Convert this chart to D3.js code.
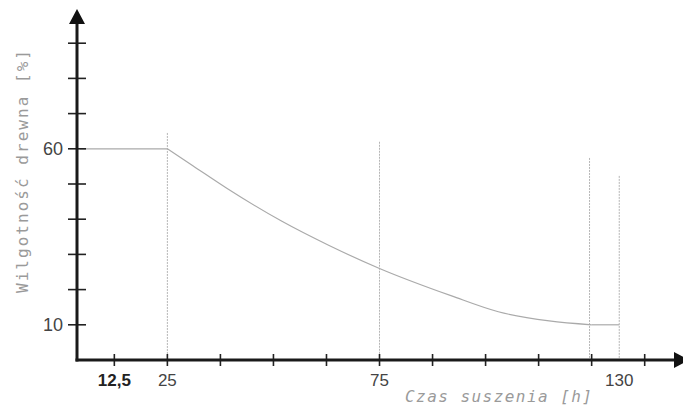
<!DOCTYPE html>
<html>
<head>
<meta charset="utf-8">
<script src="https://cdn.jsdelivr.net/npm/d3@7"></script>
<style>
  body { margin: 0; background: #fff; }
  svg { display: block; }
</style>
</head>
<body>
<svg id="chart" width="683" height="405"></svg>
<script>
// data
var timeH = [25, 31, 39, 52, 63, 75, 92, 103, 115, 125];
var moisture = [60, 55.2, 48.8, 39.4, 32.6, 26, 18.2, 13.7, 11.1, 10];
var plateauLevel = 60;
var endTime = 131.5; // drawn end of drying, labelled 130
var xTicks = [12.5, 25, 37.5, 50, 62.5, 75, 87.5, 100, 112.5, 125, 137.5];
var xTickLabels = [{v: 12.5, t: '12,5', bold: true}, {v: 25, t: '25'}, {v: 75, t: '75'}, {v: endTime, t: '130'}];
var yTicks = [10, 20, 30, 40, 50, 60, 70, 80, 90];
var yTickLabels = [10, 60];
var markerLines = [{v: 25, top: 64.5}, {v: 75, top: 62}, {v: 124.5, top: 57.4}, {v: endTime, top: 52.3}];

(function drawChart() {
  'use strict';

  var svg = d3.select('#chart');
  var left = 77, bottom = 360;

  var x = d3.scaleLinear().domain([3.7, 147]).range([left, 685]);
  var y = d3.scaleLinear().domain([0, 100]).range([bottom, 8]);

  var grey = '#b5b5b5';

  // vertical marker lines
  svg.selectAll('line.marker')
    .data(markerLines)
    .enter()
    .append('line')
    .attr('class', 'marker')
    .attr('x1', function (d) { return x(d.v); })
    .attr('x2', function (d) { return x(d.v); })
    .attr('y1', function (d) { return y(d.top); })
    .attr('y2', bottom)
    .style('stroke', grey)
    .attr('stroke-width', 1)
    .attr('stroke-dasharray', '2,1');

  // plateau, decay and tail
  svg.append('line')
    .attr('x1', left + 3)
    .attr('x2', x(timeH[0]))
    .attr('y1', y(plateauLevel))
    .attr('y2', y(plateauLevel))
    .style('stroke', '#aaa')
    .attr('stroke-width', 1.2);

  var line = d3.line()
    .x(function (d, i) { return x(timeH[i]); })
    .y(function (d) { return y(d); })
    .curve(d3.curveMonotoneX);

  svg.append('path')
    .attr('d', line(moisture))
    .style('fill', 'none')
    .style('stroke', '#aaa')
    .attr('stroke-width', 1.2);

  svg.append('line')
    .attr('x1', x(timeH[timeH.length - 1]))
    .attr('x2', x(endTime))
    .attr('y1', y(moisture[moisture.length - 1]))
    .attr('y2', y(moisture[moisture.length - 1]))
    .style('stroke', '#aaa')
    .attr('stroke-width', 1.2);

  // ticks
  svg.selectAll('line.ytick')
    .data(yTicks)
    .enter()
    .append('line')
    .attr('x1', left - 9)
    .attr('x2', left + 9)
    .attr('y1', function (d) { return y(d); })
    .attr('y2', function (d) { return y(d); })
    .style('stroke', '#222')
    .attr('stroke-width', 1.6);

  svg.selectAll('line.xtick')
    .data(xTicks)
    .enter()
    .append('line')
    .attr('x1', function (d) { return x(d); })
    .attr('x2', function (d) { return x(d); })
    .attr('y1', bottom - 6)
    .attr('y2', bottom + 6)
    .style('stroke', '#222')
    .attr('stroke-width', 1.6);

  // axes
  svg.append('line')
    .attr('x1', left).attr('x2', left)
    .attr('y1', bottom + 1.5).attr('y2', 22)
    .style('stroke', '#1a1a1a')
    .attr('stroke-width', 3);
  svg.append('path')
    .attr('d', 'M' + (left - 8) + ',24L' + left + ',9L' + (left + 8) + ',24Z')
    .style('fill', '#111');

  svg.append('line')
    .attr('x1', left - 1.5).attr('x2', 676)
    .attr('y1', bottom).attr('y2', bottom)
    .style('stroke', '#1a1a1a')
    .attr('stroke-width', 3);
  svg.append('path')
    .attr('d', 'M674,' + (bottom - 8) + 'L689,' + bottom + 'L674,' + (bottom + 8) + 'Z')
    .style('fill', '#111');

  // tick labels
  svg.selectAll('text.ylab')
    .data(yTickLabels)
    .enter()
    .append('text')
    .attr('x', left - 14)
    .attr('y', function (d) { return y(d) + 6; })
    .attr('text-anchor', 'end')
    .style('font-family', 'Liberation Sans, Arial, sans-serif')
    .style('font-size', '18px')
    .style('fill', '#444')
    .text(function (d) { return d; });

  svg.selectAll('text.xlab')
    .data(xTickLabels)
    .enter()
    .append('text')
    .attr('x', function (d) { return x(d.v); })
    .attr('y', 386)
    .attr('text-anchor', 'middle')
    .style('font-family', 'Liberation Sans, Arial, sans-serif')
    .style('font-size', '17px')
    .style('font-weight', function (d) { return d.bold ? 'bold' : 'normal'; })
    .style('fill', function (d) { return d.bold ? '#222' : '#444'; })
    .text(function (d) { return d.t; });

  // axis titles
  svg.append('text')
    .attr('x', 405)
    .attr('y', 402)
    .attr('textLength', 187)
    .style('font-family', 'DejaVu Sans Mono, monospace')
    .style('font-style', 'italic')
    .style('font-size', '16px')
    .style('fill', '#9a9a9a')
    .text('Czas suszenia [h]');

  svg.append('text')
    .attr('transform', 'translate(28,293) rotate(-90)')
    .attr('textLength', 243)
    .style('font-family', 'DejaVu Sans Mono, monospace')
    .style('font-size', '16px')
    .style('fill', '#9a9a9a')
    .text('Wilgotność drewna [%]');
})();
</script>
</body>
</html>
